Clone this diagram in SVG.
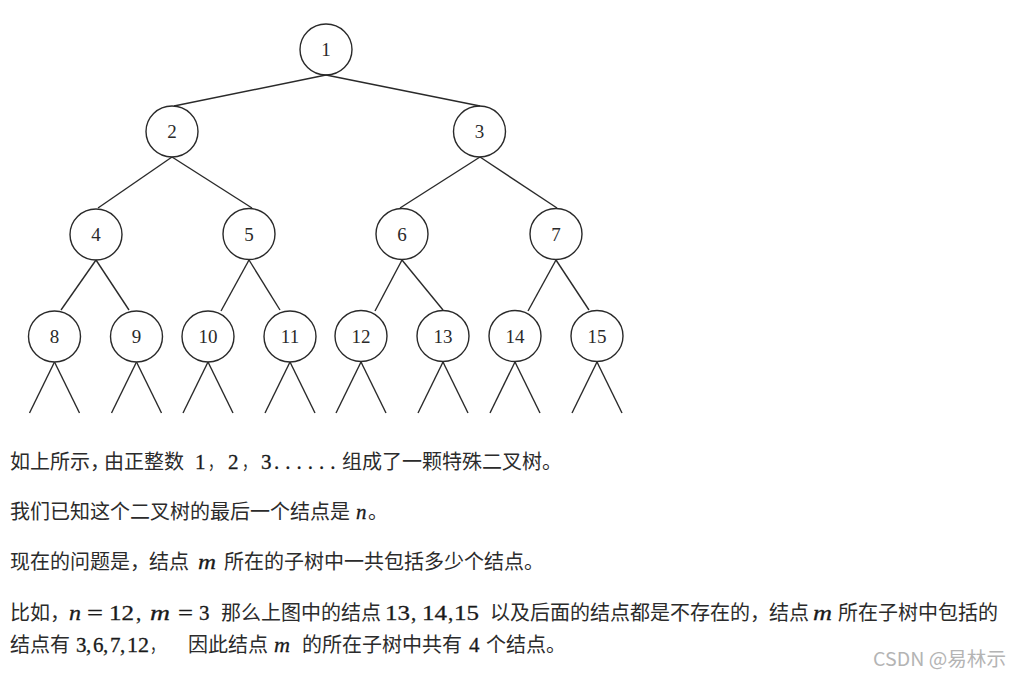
<svg xmlns="http://www.w3.org/2000/svg" width="1011" height="677" viewBox="0 0 1011 677">
<style>
.n ellipse{fill:none;stroke:#2a2a2a;stroke-width:1.4}
.n text{font-family:"Liberation Serif",serif;font-size:19px;fill:#2a2a2a;text-anchor:middle}
#edges line{stroke:#2a2a2a;stroke-width:1.4}
.cn{font-family:"Noto Sans CJK SC","Noto Sans",sans-serif;font-size:20px;fill:#2b2b2b}
.mt{font-family:"Liberation Serif",serif;font-size:21px;fill:#1a1a1a;stroke:#1a1a1a;stroke-width:0.3}
.it{font-style:italic}
.wm{font-family:"Noto Sans CJK SC","Noto Sans",sans-serif;font-size:19px;fill:#b4b4b4}
</style>
<rect width="1011" height="677" fill="#fff"/>
<g id="edges">
<line x1="326" y1="75" x2="174" y2="106"/>
<line x1="326" y1="75" x2="480" y2="106"/>
<line x1="172" y1="157" x2="98" y2="208"/>
<line x1="172" y1="157" x2="252" y2="208"/>
<line x1="480" y1="157" x2="400" y2="208"/>
<line x1="480" y1="157" x2="557" y2="208"/>
<line x1="96" y1="260" x2="61" y2="310"/>
<line x1="96" y1="260" x2="129" y2="310"/>
<line x1="249" y1="260" x2="221" y2="311"/>
<line x1="249" y1="260" x2="280" y2="310"/>
<line x1="402" y1="260" x2="375" y2="311"/>
<line x1="402" y1="260" x2="443" y2="310"/>
<line x1="556" y1="260" x2="528" y2="311"/>
<line x1="556" y1="260" x2="589" y2="310"/>
<line x1="54.5" y1="362" x2="29.5" y2="413"/><line x1="54.5" y1="362" x2="79.5" y2="413"/>
<line x1="136.5" y1="362" x2="111.5" y2="413"/><line x1="136.5" y1="362" x2="161.5" y2="413"/>
<line x1="208" y1="362" x2="183" y2="413"/><line x1="208" y1="362" x2="233" y2="413"/>
<line x1="290" y1="362" x2="265" y2="413"/><line x1="290" y1="362" x2="315" y2="413"/>
<line x1="361" y1="362" x2="336" y2="413"/><line x1="361" y1="362" x2="386" y2="413"/>
<line x1="443" y1="362" x2="418" y2="413"/><line x1="443" y1="362" x2="468" y2="413"/>
<line x1="515" y1="362" x2="490" y2="413"/><line x1="515" y1="362" x2="540" y2="413"/>
<line x1="597" y1="362" x2="572" y2="413"/><line x1="597" y1="362" x2="622" y2="413"/>
</g>
<g id="node1" class="n"><ellipse cx="326" cy="49.5" rx="26" ry="25.5"/><text x="326" y="56">1</text></g>
<g id="node2" class="n"><ellipse cx="172" cy="131.5" rx="26" ry="25.5"/><text x="172" y="138">2</text></g>
<g id="node3" class="n"><ellipse cx="479.5" cy="131.5" rx="26" ry="25.5"/><text x="479.5" y="138">3</text></g>
<g id="node4" class="n"><ellipse cx="96" cy="234.5" rx="26" ry="25.5"/><text x="96" y="241">4</text></g>
<g id="node5" class="n"><ellipse cx="249" cy="234" rx="26" ry="25.5"/><text x="249" y="240.5">5</text></g>
<g id="node6" class="n"><ellipse cx="402" cy="234" rx="26" ry="25.5"/><text x="402" y="240.5">6</text></g>
<g id="node7" class="n"><ellipse cx="556" cy="234" rx="26" ry="25.5"/><text x="556" y="240.5">7</text></g>
<g id="node8" class="n"><ellipse cx="54.5" cy="336.5" rx="26" ry="25.5"/><text x="54.5" y="343">8</text></g>
<g id="node9" class="n"><ellipse cx="136.5" cy="336.5" rx="26" ry="25.5"/><text x="136.5" y="343">9</text></g>
<g id="node10" class="n"><ellipse cx="208" cy="336.5" rx="26" ry="25.5"/><text x="208" y="343">10</text></g>
<g id="node11" class="n"><ellipse cx="290" cy="336.5" rx="26" ry="25.5"/><text x="290" y="343">11</text></g>
<g id="node12" class="n"><ellipse cx="361" cy="336" rx="26" ry="25.5"/><text x="361" y="342.5">12</text></g>
<g id="node13" class="n"><ellipse cx="443" cy="336" rx="26" ry="25.5"/><text x="443" y="342.5">13</text></g>
<g id="node14" class="n"><ellipse cx="515" cy="336" rx="26" ry="25.5"/><text x="515" y="342.5">14</text></g>
<g id="node15" class="n"><ellipse cx="597" cy="336" rx="26" ry="25.5"/><text x="597" y="342.5">15</text></g>
<g id="text">
<text class="cn" x="10" y="469">如上所示，<tspan x="104">由正整数</tspan></text>
<text class="mt" x="195" y="469">1</text>
<text class="cn" x="208" y="469" textLength="14" lengthAdjust="spacingAndGlyphs">，</text>
<text class="mt" x="228" y="469">2</text>
<text class="cn" x="242" y="469" textLength="14" lengthAdjust="spacingAndGlyphs">，</text>
<text class="mt" x="261" y="469">3</text>
<text class="mt" x="274" y="469" letter-spacing="6">......</text>
<text class="cn" x="342" y="469">组成了一颗特殊二叉树。</text>

<text class="cn" x="10" y="519">我们已知这个二叉树的最后一个结点是</text>
<text class="mt it" x="356" y="519">n</text>
<text class="cn" x="368" y="519">。</text>

<text class="cn" x="10" y="569">现在的问题是，<tspan x="149">结点</tspan></text>
<text class="mt it" x="198" y="569" textLength="18" lengthAdjust="spacingAndGlyphs">m</text>
<text class="cn" x="224" y="569">所在的子树中一共包括多少个结点。</text>

<text class="cn" x="10" y="620">比如，</text>
<text class="mt it" x="69" y="620" textLength="12" lengthAdjust="spacingAndGlyphs">n</text>
<text class="mt" x="87" y="620" textLength="16" lengthAdjust="spacingAndGlyphs">=</text>
<text class="mt" x="109" y="620" textLength="25" lengthAdjust="spacingAndGlyphs">12</text>
<text class="mt" x="136" y="620">,</text>
<text class="mt it" x="150" y="620" textLength="20" lengthAdjust="spacingAndGlyphs">m</text>
<text class="mt" x="178" y="620" textLength="15" lengthAdjust="spacingAndGlyphs">=</text>
<text class="mt" x="199" y="620">3</text>
<text class="cn" x="221" y="620">那么上图中的结点</text>
<text class="mt" x="385" y="620" textLength="25" lengthAdjust="spacingAndGlyphs">13</text>
<text class="mt" x="411" y="620">,</text>
<text class="mt" x="422" y="620" textLength="25" lengthAdjust="spacingAndGlyphs">14</text>
<text class="mt" x="448" y="620">,</text>
<text class="mt" x="454" y="620" textLength="25" lengthAdjust="spacingAndGlyphs">15</text>
<text class="cn" x="490" y="620">以及后面的结点都是不存在的，<tspan x="769">结点</tspan></text>
<text class="mt it" x="813" y="620" textLength="19" lengthAdjust="spacingAndGlyphs">m</text>
<text class="cn" x="838" y="620">所在子树中包括的</text>

<text class="cn" x="10" y="652">结点有</text>
<text class="mt" x="76" y="652">3</text>
<text class="mt" x="86" y="652">,</text>
<text class="mt" x="93" y="652">6</text>
<text class="mt" x="103" y="652">,</text>
<text class="mt" x="110" y="652">7</text>
<text class="mt" x="120" y="652">,</text>
<text class="mt" x="127" y="652" textLength="22" lengthAdjust="spacingAndGlyphs">12</text>
<text class="cn" x="150" y="652" textLength="14" lengthAdjust="spacingAndGlyphs">，</text>
<text class="cn" x="188" y="652">因此结点</text>
<text class="mt it" x="274" y="652" textLength="16" lengthAdjust="spacingAndGlyphs">m</text>
<text class="cn" x="302" y="652">的所在子树中共有</text>
<text class="mt" x="469" y="652">4</text>
<text class="cn" x="486" y="652">个结点。</text>

<text class="wm" x="873" y="666" textLength="133" lengthAdjust="spacingAndGlyphs">CSDN @易林示</text>
</g>
</svg>
